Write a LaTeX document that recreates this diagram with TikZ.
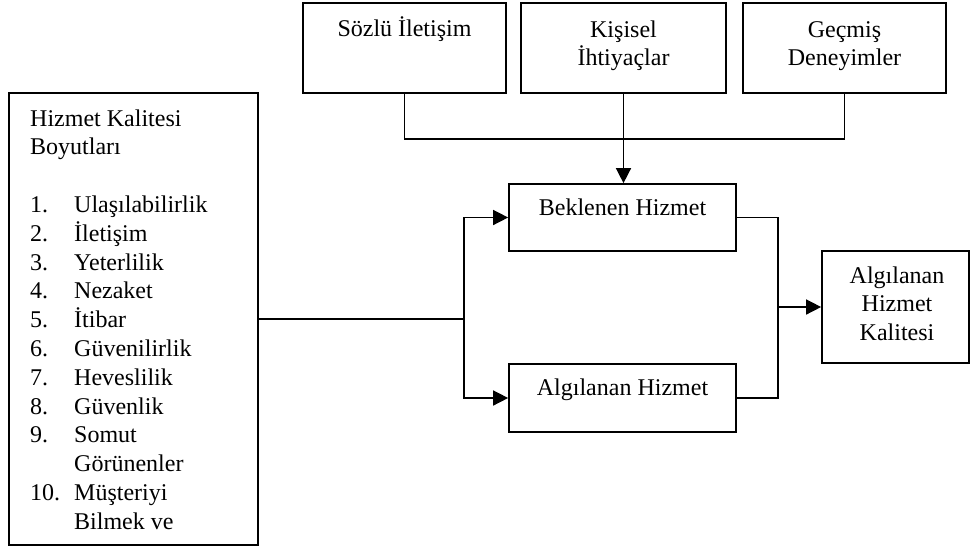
\documentclass[tikz,border=0pt]{standalone}
\usepackage{fontspec}
\setmainfont{Liberation Serif}
\usetikzlibrary{arrows.meta}
% one line or several centred lines, baseline on the first one
\newcommand{\stack}[1]{\begin{tabular}[t]{@{}c@{}}#1\end{tabular}}
\begin{document}
\begin{tikzpicture}[x=1pt,y=-1pt,
  every node/.style={font=\fontsize{24}{28.8}\selectfont},
  box/.style={draw, line width=1.7pt, inner sep=0pt},
  label/.style={anchor=base, inner sep=0pt},
  link/.style={line width=1.3pt},
  arrowlink/.style={line width=1.5pt, -{Triangle[length=15pt,width=15pt]}}]
\useasboundingbox (0,0) rectangle (972,550);

% three influences at the top
\node[box, minimum width=203pt, minimum height=90pt] (soz) at (404.5,48) {};
\node[box, minimum width=205pt, minimum height=90pt] (kis) at (623.5,48) {};
\node[box, minimum width=203pt, minimum height=90pt] (gec) at (844.5,48) {};
\node[label] (sozt) at (404.5,36.5) {Sözlü İletişim};
\node[label] (kist) at (623.5,37) {\stack{Kişisel\\İhtiyaçlar}};
\node[label] (gect) at (844.5,37) {\stack{Geçmiş\\Deneyimler}};

% dimensions of service quality
\node[box, minimum width=249pt, minimum height=452pt] (boy) at (133.5,319) {};
\node[anchor=base west, inner sep=0pt] (boyt) at (30,126) {%
  \begin{tabular}[t]{@{}p{44pt}@{}l@{}}
  \multicolumn{2}{@{}l@{}}{Hizmet Kalitesi}\\
  \multicolumn{2}{@{}l@{}}{Boyutları}\\
  & \\
  1. & Ulaşılabilirlik\\
  2. & İletişim\\
  3. & Yeterlilik\\
  4. & Nezaket\\
  5. & İtibar\\
  6. & Güvenilirlik\\
  7. & Heveslilik\\
  8. & Güvenlik\\
  9. & Somut\\
     & Görünenler\\
  10. & Müşteriyi\\
     & Bilmek ve
  \end{tabular}};

% expected and perceived service
\node[box, minimum width=227pt, minimum height=67pt] (bek) at (622.5,217.5) {};
\node[box, minimum width=227pt, minimum height=68pt] (alg) at (622.5,398) {};
\node[label] (bekt) at (622.5,215) {Beklenen Hizmet};
\node[label] (algt) at (622.5,395) {Algılanan Hizmet};

% perceived service quality
\node[box, minimum width=147pt, minimum height=112pt] (kal) at (895.5,307) {};
\node[label] (kalt) at (897,283) {\stack{Algılanan\\Hizmet\\Kalitesi}};

% junction points
\coordinate (lj) at (464,319);
\coordinate (rj) at (778,307);

% connectors
\draw[link] (soz.south) -- ++(0,45) -| (gec.south);
\draw[arrowlink] (kis.south) -- (kis.south |- bek.north);
\draw[link] (boy.east) -- (lj);
\draw[arrowlink] (lj) |- (bek.west);
\draw[arrowlink] (lj) |- (alg.west);
\draw[link] (bek.east) -| (rj |- alg.east) -- (alg.east);
\draw[arrowlink] (rj) -- (kal.west);
\end{tikzpicture}
\end{document}
